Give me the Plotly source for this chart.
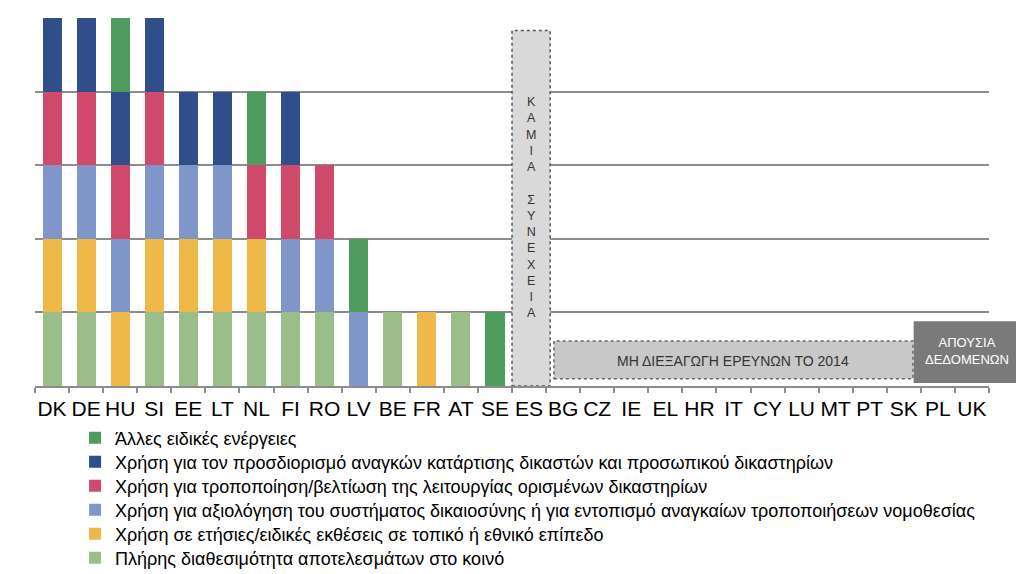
import plotly.graph_objects as go

countries = ["DK", "DE", "HU", "SI", "EE", "LT", "NL", "FI", "RO", "LV", "BE", "FR", "AT", "SE",
             "ES", "BG", "CZ", "IE", "EL", "HR", "IT", "CY", "LU", "MT", "PT", "SK", "PL", "UK"]

# Series in stacking order (bottom to top)
full_availability = [1, 1, 0, 1, 1, 1, 1, 1, 1, 0, 1, 0, 1, 0] + [0] * 14
annual_reports    = [1, 1, 1, 1, 1, 1, 1, 0, 0, 0, 0, 1, 0, 0] + [0] * 14
system_evaluation = [1, 1, 1, 1, 1, 1, 0, 1, 1, 1, 0, 0, 0, 0] + [0] * 14
court_improvement = [1, 1, 1, 1, 0, 0, 1, 1, 1, 0, 0, 0, 0, 0] + [0] * 14
training_needs    = [1, 1, 1, 1, 1, 1, 0, 1, 0, 0, 0, 0, 0, 0] + [0] * 14
other_actions     = [0, 0, 1, 0, 0, 0, 1, 0, 0, 1, 0, 0, 0, 1] + [0] * 14

series_names = [
    "Πλήρης διαθεσιμότητα αποτελεσμάτων στο κοινό",
    "Χρήση σε ετήσιες/ειδικές εκθέσεις σε τοπικό ή εθνικό επίπεδο",
    "Χρήση για αξιολόγηση του συστήματος δικαιοσύνης ή για εντοπισμό αναγκαίων τροποποιήσεων νομοθεσίας",
    "Χρήση για τροποποίηση/βελτίωση της λειτουργίας ορισμένων δικαστηρίων",
    "Χρήση για τον προσδιορισμό αναγκών κατάρτισης δικαστών και προσωπικού δικαστηρίων",
    "Άλλες ειδικές ενέργειες",
]
series_values = [full_availability, annual_reports, system_evaluation,
                 court_improvement, training_needs, other_actions]
series_colors = ["#9bbd8a", "#efb94a", "#8196c8", "#d04a6c", "#304f8a", "#509c5e"]

note_no_followup = "ΚΑΜΙΑ ΣΥΝΕΧΕΙΑ"
note_no_surveys = "ΜΗ ΔΙΕΞΑΓΩΓΗ ΕΡΕΥΝΩΝ ΤΟ 2014"
note_no_data = "ΑΠΟΥΣΙΑ<br>ΔΕΔΟΜΕΝΩΝ"

FONT = "Liberation Sans, Arial, sans-serif"

# page body has an 8px margin; size the figure so it ends at the window edge
FIG_W, FIG_H = 1016, 566
M_L, M_R, M_T, M_B = 27, 35, 10, 188
PLOT_H = FIG_H - M_T - M_B

fig = go.Figure()
n = len(series_names)
legend_layouts = {}
for i, (name, vals, col) in enumerate(zip(series_names, series_values, series_colors)):
    key = "legend" if i == 0 else f"legend{i + 1}"
    fig.add_trace(go.Bar(
        x=countries, y=vals, name=name, width=0.56,
        marker=dict(color=col, line=dict(width=0)),
        legend=key,
    ))
    row = n - 1 - i  # top legend row is the top of the stack
    center_px = 52 + 24 * row  # pixels below the plot bottom
    legend_layouts[key] = dict(
        x=0.042, y=-center_px / PLOT_H, xanchor="left", yanchor="middle",
        font=dict(family=FONT, size=18, color="#000000"),
        itemwidth=30, bgcolor="rgba(0,0,0,0)",
    )

# Annotation boxes
fig.add_shape(type="rect", xref="x", yref="y", x0=13.5, x1=14.62, y0=0, y1=4.83,
              fillcolor="#d9d9d9", line=dict(color="#555555", width=1.5, dash="dot"),
              layer="above")
fig.add_annotation(x=14.06, y=2.42, xref="x", yref="y",
                   text="<br>".join(list(note_no_followup)),
                   xanchor="center", yanchor="middle",
                   showarrow=False, font=dict(family=FONT, size=12.5, color="#333333"))
fig.add_shape(type="rect", xref="x", yref="y", x0=14.73, x1=25.27, y0=0.1, y1=0.61,
              fillcolor="#c8c8c8", line=dict(color="#666666", width=1.5, dash="dot"),
              layer="above")
fig.add_annotation(x=20.0, y=0.34, xref="x", yref="y", text=note_no_surveys,
                   xanchor="center", yanchor="middle",
                   showarrow=False, font=dict(family=FONT, size=14, color="#333333"))
fig.add_shape(type="rect", xref="paper", yref="y", x0=0.921, x1=1.0325, y0=0.04, y1=0.88,
              fillcolor="#7a7a7a", line=dict(width=0), layer="above")
fig.add_annotation(x=0.9765, y=0.47, xref="paper", yref="y", text=note_no_data,
                   xanchor="center", yanchor="middle",
                   showarrow=False, font=dict(family=FONT, size=13, color="#ffffff"))

fig.update_layout(
    barmode="stack",
    width=FIG_W, height=FIG_H,
    margin=dict(l=M_L, r=M_R, t=M_T, b=M_B, autoexpand=False),
    paper_bgcolor="white", plot_bgcolor="white",
    font=dict(family=FONT, color="#000000"),
    showlegend=True,
    xaxis=dict(type="category", range=[-0.5, 27.5], showline=True, linecolor="#8c8c8c",
               linewidth=2, ticks="outside", tickson="boundaries", ticklen=5,
               tickcolor="#8c8c8c", tickwidth=1.5, showgrid=False, tickangle=0,
               automargin=False, ticklabelstandoff=3,
               tickfont=dict(family=FONT, size=21, color="#000000")),
    yaxis=dict(range=[0, 5], dtick=1, showgrid=True, gridcolor="#8c8c8c", gridwidth=2,
               showticklabels=False, zeroline=False, showline=False, automargin=False),
    **legend_layouts,
)

fig.write_html("out.html")
